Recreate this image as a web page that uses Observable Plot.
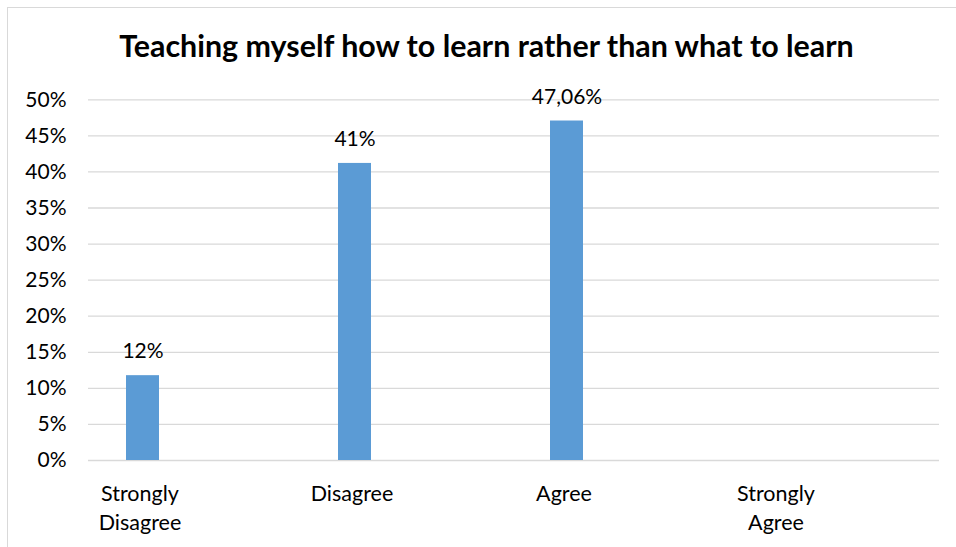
<!DOCTYPE html>
<html>
<head>
<meta charset="utf-8">
<script src="https://cdn.jsdelivr.net/npm/d3@7"></script>
<script src="https://cdn.jsdelivr.net/npm/@observablehq/plot@0.6"></script>
<style>
html, body { margin: 0; padding: 0; background: #fff; overflow: hidden; }
#wrap { position: relative; width: 956px; height: 547px; font-family: Lato, "Open Sans", sans-serif; overflow: hidden; }
#border { position: absolute; left: 7px; top: 7px; width: 980px; height: 580px; border: 1px solid #d9d9d9; box-sizing: border-box; pointer-events: none; }
#title { position: relative; height: 70px; box-sizing: border-box; padding-top: 27px; padding-left: 17px; line-height: 36px; font-size: 30.4px; font-weight: bold; text-align: center; color: #000; white-space: nowrap; }
#chart svg { display: block; }
</style>
</head>
<body>
<div id="wrap">
  <div id="border"></div>
  <div id="title">Teaching myself how to learn rather than what to learn</div>
  <div id="chart"></div>
</div>
<script>
const categories = ["Strongly Disagree", "Disagree", "Agree", "Strongly Agree"];
const values = [11.76, 41.18, 47.06, 0];
const valueLabels = ["12%", "41%", "47,06%", ""];
const yTicks = [0, 5, 10, 15, 20, 25, 30, 35, 40, 45, 50];

const data = categories.map((c, i) => ({category: c, value: values[i], label: valueLabels[i]}));

const chart = Plot.plot({
  width: 956,
  height: 477,
  marginLeft: 88,
  marginRight: 17,
  marginTop: 29.3,
  marginBottom: 87,
  style: {fontFamily: "Lato, 'Open Sans', sans-serif", fontSize: "21px", color: "#000", background: "transparent"},
  x: {type: "band", domain: categories, range: [36.1, 885.1], paddingInner: 0.845, paddingOuter: 0.4225, align: 0.5, axis: null},
  y: {domain: [0, 50], axis: null},
  marks: [
    Plot.ruleY(yTicks, {stroke: "#d9d9d9", strokeWidth: 1.3}),
    Plot.barY(data.filter(d => d.value > 0), {x: "category", y: "value", fill: "#5b9bd5"}),
    Plot.text(data, {x: "category", y: "value", text: "label", dy: -24, fontSize: 21, fill: "#000"}),
    Plot.axisY({ticks: yTicks, tickSize: 0, tickPadding: 22, tickFormat: d => d + "%", fontSize: 21, label: null}),
    Plot.axisX({tickSize: 0, tickPadding: 19, dx: -3, tickFormat: d => d.replace(" ", "\n"), lineHeight: 1.38, fontSize: 21.5, label: null})
  ]
});
document.getElementById("chart").appendChild(chart);
</script>
</body>
</html>
